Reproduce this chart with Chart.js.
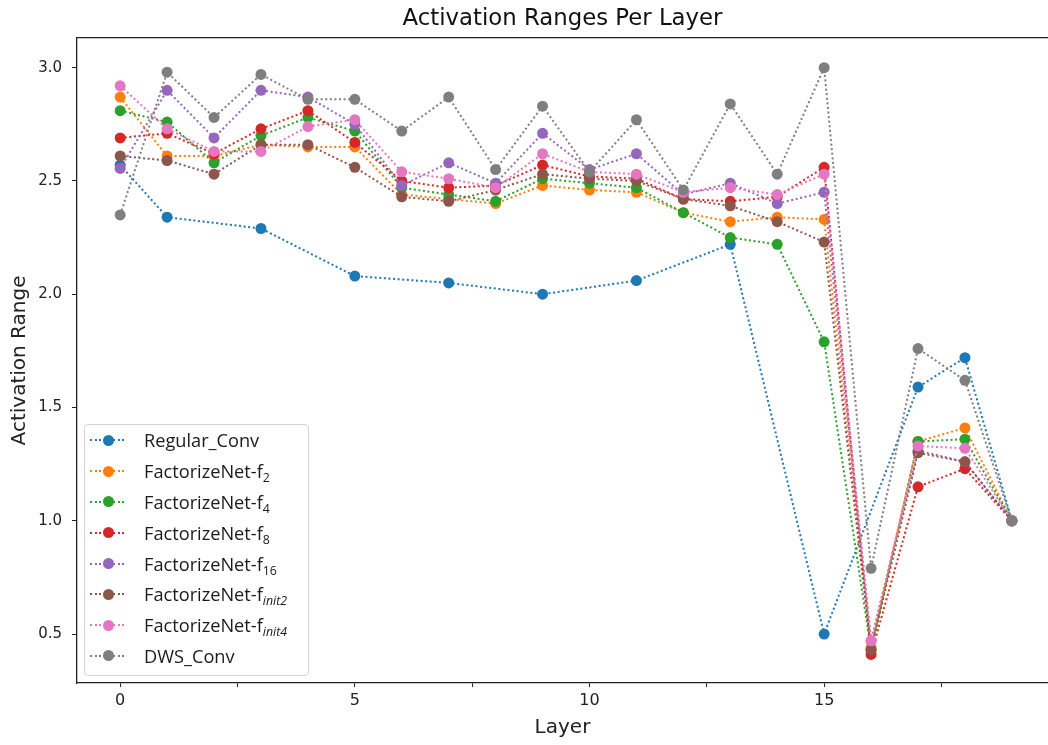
<!DOCTYPE html>
<html>
<head>
<meta charset="utf-8">
<script src="https://cdn.jsdelivr.net/npm/chart.js@4.4.1/dist/chart.umd.min.js"></script>
<style>
  html, body { margin: 0; padding: 0; background: #fff; overflow: hidden; }
  #wrap { position: relative; width: 1048px; height: 745px; }
  #c { position: absolute; left: 0; top: 0; }
  #legend {
    position: absolute; left: 84px; top: 424px; width: 225px; height: 252px;
    box-sizing: border-box; border: 1px solid #d4d4d4; border-radius: 4px;
    background: rgba(255,255,255,0.8); padding-top: 0px;
    font-family: 'Open Sans', 'DejaVu Sans', sans-serif; font-size: 18.2px; color: #1a1a1a;
  }
  .row { height: 30.8px; display: flex; align-items: center; }
  .sample { position: relative; width: 37px; height: 12px; margin-left: 5px; flex: none; }
  .sample .ln { position: absolute; left: 0; right: 0; top: 5px; height: 2px; }
  .sample .dot { position: absolute; left: 13px; top: 0.5px; width: 11px; height: 11px; border-radius: 50%; }
  .txt { margin-left: 17px; white-space: nowrap; }
  .txt sub { font-size: 0.68em; vertical-align: -0.32em; line-height: 0; }
</style>
</head>
<body>
<div id="wrap">
  <canvas id="c" width="1048" height="745"></canvas>
  <div id="legend"></div>
</div>
<script>
// ---- data ----
const layers = [0, 1, 2, 3, 4, 5, 6, 7, 8, 9, 10, 11, 12, 13, 14, 15, 16, 17, 18, 19];

const regularConv = [2.57, 2.34, null, 2.29, null, 2.08, null, 2.05, null, 2.00, null, 2.06, null, 2.22, null, 0.50, null, 1.59, 1.72, 1.00];
const factorizeF2 = [2.87, 2.61, 2.61, 2.66, 2.65, 2.65, 2.44, 2.42, 2.40, 2.48, 2.46, 2.45, 2.36, 2.32, 2.34, 2.33, 0.44, 1.35, 1.41, 1.00];
const factorizeF4 = [2.81, 2.76, 2.58, 2.70, 2.78, 2.72, 2.47, 2.44, 2.41, 2.51, 2.49, 2.47, 2.36, 2.25, 2.22, 1.79, 0.43, 1.35, 1.36, 1.00];
const factorizeF8 = [2.69, 2.71, 2.62, 2.73, 2.81, 2.67, 2.50, 2.47, 2.48, 2.57, 2.52, 2.51, 2.42, 2.41, 2.43, 2.56, 0.41, 1.15, 1.23, 1.00];
const factorizeF16 = [2.555, 2.90, 2.69, 2.90, 2.87, 2.75, 2.48, 2.58, 2.49, 2.71, 2.55, 2.62, 2.44, 2.49, 2.40, 2.45, 0.47, 1.31, 1.26, 1.00];
const factorizeInit2 = [2.61, 2.59, 2.53, 2.66, 2.66, 2.56, 2.43, 2.41, 2.46, 2.53, 2.51, 2.50, 2.42, 2.39, 2.32, 2.23, 0.43, 1.30, 1.26, 1.00];
const factorizeInit4 = [2.92, 2.73, 2.63, 2.63, 2.74, 2.77, 2.54, 2.51, 2.47, 2.62, 2.54, 2.53, 2.45, 2.47, 2.44, 2.53, 0.47, 1.33, 1.32, 1.00];
const dwsConv = [2.35, 2.98, 2.78, 2.97, 2.86, 2.86, 2.72, 2.87, 2.55, 2.83, 2.54, 2.77, 2.46, 2.84, 2.53, 3.00, 0.79, 1.76, 1.62, 1.00];

const seriesBase = ['Regular_Conv', 'FactorizeNet-f', 'FactorizeNet-f', 'FactorizeNet-f', 'FactorizeNet-f', 'FactorizeNet-f', 'FactorizeNet-f', 'DWS_Conv'];
const seriesSub = ['', '2', '4', '8', '16', 'init2', 'init4', ''];
const seriesValues = [regularConv, factorizeF2, factorizeF4, factorizeF8, factorizeF16, factorizeInit2, factorizeInit4, dwsConv];
const seriesColors = ['#1f77b4', '#ff7f0e', '#2ca02c', '#d62728', '#9467bd', '#8c564b', '#e377c2', '#7f7f7f'];

const xTickValues = [0, 2.5, 5, 7.5, 10, 12.5, 15, 17.5];
const xLabelledTicks = [0, 5, 10, 15];
const yTickValues = [0.5, 1.0, 1.5, 2.0, 2.5, 3.0];

const titleText = 'Activation Ranges Per Layer';
const xTitle = 'Layer';
const yTitle = 'Activation Range';

// ---- chart ----
const datasets = seriesValues.map((vals, i) => ({
  label: seriesBase[i] + seriesSub[i],
  data: layers.map((l, j) => ({ x: l, y: vals[j] })),
  borderColor: seriesColors[i],
  backgroundColor: seriesColors[i],
  pointBackgroundColor: seriesColors[i],
  pointBorderWidth: 0,
  pointRadius: 5.5,
  pointHoverRadius: 5.5,
  borderWidth: 2,
  borderDash: [2, 2.6],
  tension: 0,
  spanGaps: true,
  clip: 8,
  order: seriesValues.length - i
}));

const axisColor = '#222';

new Chart(document.getElementById('c'), {
  type: 'line',
  data: { datasets },
  options: {
    responsive: false,
    animation: false,
    devicePixelRatio: 1,
    layout: { padding: 0, autoPadding: false },
    plugins: {
      legend: { display: false },
      tooltip: { enabled: false },
      title: {
        display: true,
        text: titleText,
        fullSize: false,
        color: '#111',
        font: { family: 'DejaVu Sans', size: 22.8, weight: 'normal', lineHeight: 1.2 },
        padding: { top: 5, bottom: 5.6 }
      }
    },
    scales: {
      x: {
        type: 'linear',
        position: 'bottom',
        min: -0.92,
        max: 19.77,
        afterFit: s => { s.height = 62; },
        afterBuildTicks: s => { s.ticks = xTickValues.map(v => ({ value: v })); },
        ticks: {
          color: '#222',
          font: { family: 'DejaVu Sans', size: 16 },
          padding: 4,
          maxRotation: 0,
          autoSkip: false,
          callback: v => (xLabelledTicks.includes(v) ? String(v) : '')
        },
        grid: { drawOnChartArea: false, drawTicks: true, tickLength: 4, color: axisColor, lineWidth: 1 },
        border: { display: true, color: axisColor, width: 1.3 },
        title: {
          display: true, text: xTitle, color: '#222',
          font: { family: 'DejaVu Sans', size: 20, lineHeight: 1.2 },
          padding: { top: 0, bottom: 5 }
        }
      },
      xTop: {
        type: 'linear',
        position: 'top',
        min: -0.92,
        max: 19.77,
        afterFit: s => { s.height = 0; },
        ticks: { display: false },
        grid: { display: false, drawTicks: false },
        border: { display: true, color: axisColor, width: 1.3 }
      },
      y: {
        type: 'linear',
        position: 'left',
        min: 0.284,
        max: 3.131,
        afterFit: s => { s.width = 77; },
        afterBuildTicks: s => { s.ticks = yTickValues.map(v => ({ value: v })); },
        ticks: {
          color: '#222',
          font: { family: 'DejaVu Sans', size: 15 },
          padding: 10,
          autoSkip: false,
          callback: v => Number(v).toFixed(1)
        },
        grid: { drawOnChartArea: false, drawTicks: true, tickLength: 5, color: axisColor, lineWidth: 1 },
        border: { display: true, color: axisColor, width: 1.3 },
        title: {
          display: true, text: yTitle, color: '#222',
          font: { family: 'DejaVu Sans', size: 20, lineHeight: 1.2 },
          padding: { top: 7.5, bottom: 0 }
        }
      }
    }
  }
});

// ---- legend (HTML, built from the same arrays) ----
const legendEl = document.getElementById('legend');
seriesBase.forEach((base, i) => {
  const row = document.createElement('div');
  row.className = 'row';
  const sample = document.createElement('span');
  sample.className = 'sample';
  const ln = document.createElement('span');
  ln.className = 'ln';
  ln.style.background = 'repeating-linear-gradient(to right, ' + seriesColors[i] + ' 0 2px, transparent 2px 4.6px)';
  const dot = document.createElement('span');
  dot.className = 'dot';
  dot.style.background = seriesColors[i];
  sample.appendChild(ln);
  sample.appendChild(dot);
  const txt = document.createElement('span');
  txt.className = 'txt';
  txt.appendChild(document.createTextNode(base));
  if (seriesSub[i]) {
    const sub = document.createElement('sub');
    sub.textContent = seriesSub[i];
    if (seriesSub[i].startsWith('init')) sub.style.fontStyle = 'italic';
    txt.appendChild(sub);
  }
  row.appendChild(sample);
  row.appendChild(txt);
  legendEl.appendChild(row);
});
</script>
</body>
</html>
